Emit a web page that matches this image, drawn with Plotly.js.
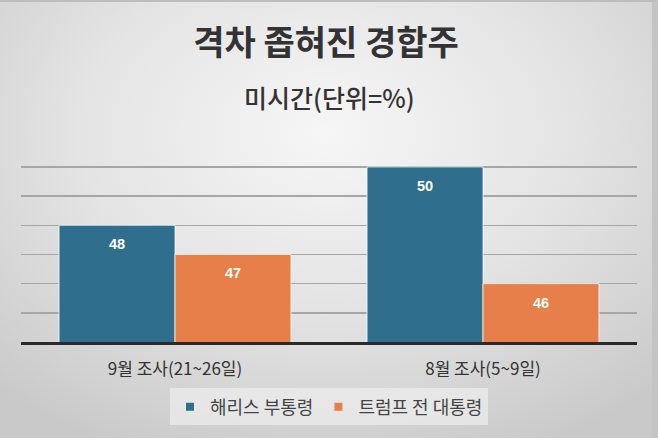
<!DOCTYPE html>
<html>
<head>
<meta charset="utf-8">
<script src="https://cdn.plot.ly/plotly-3.0.1.min.js"></script>
<style>
html,body{margin:0;padding:0;}
#chart{width:658px;height:438px;box-sizing:border-box;
background:radial-gradient(ellipse 75% 80% at 50% 30%, #f6f6f6 0%, #e4e4e4 50%, #c9c9c9 100%);
border-top:2px solid #bdbdbd;border-right:6px solid #c4c4c4;}
</style>
</head>
<body>
<div id="chart"></div>
<script>
const categories = ['9월 조사(21~26일)', '8월 조사(5~9일)'];
const seriesNames = ['해리스 부통령', '트럼프 전 대통령'];
const harris = [48, 50];
const trump = [47, 46];
const titleText = '격차 좁혀진 경합주';
const subtitleText = '미시간(단위=%)';

const font = '"Noto Sans CJK KR", "Noto Sans", sans-serif';
const colors = ['#2f6f8d', '#e67f49'];
const W = 652, H = 436;
const margin = {l: 21, r: 15, t: 162, b: 93};
const bargap = 0.247;

const series = [harris, trump];

const data = series.map((vals, j) => ({
  type: 'bar', name: seriesNames[j], x: categories, y: vals,
  marker: {color: colors[j], line: {color: 'rgba(255,255,255,0.75)', width: 1}},
  showlegend: false, hoverinfo: 'skip'
}));
// legend entries with small square symbols
seriesNames.forEach((n, j) => data.push({
  type: 'scatter', mode: 'markers', name: n, x: [null], y: [null],
  marker: {symbol: 'square', size: 8, color: colors[j]}, showlegend: true, hoverinfo: 'skip'
}));

// value labels placed inside each bar, just below its top
const plotW = W - margin.l - margin.r;
const catW = plotW / categories.length;
const barW = catW * (1 - bargap) / series.length;
const labelAnns = [];
series.forEach((vals, j) => {
  vals.forEach((v, i) => {
    labelAnns.push({
      x: categories[i], y: v, xref: 'x', yref: 'y',
      xshift: (j - (series.length - 1) / 2) * barW, yshift: -19,
      text: '<b>' + v + '</b>', showarrow: false, yanchor: 'middle',
      font: {family: 'Liberation Sans, Arial, sans-serif', size: 14.5, color: '#ffffff'}
    });
  });
});

const layout = {
  width: W, height: H, margin: margin,
  paper_bgcolor: 'rgba(0,0,0,0)', plot_bgcolor: 'rgba(0,0,0,0)',
  barmode: 'group', bargap: bargap, bargroupgap: 0,
  title: {text: '<b>' + titleText + '</b>', x: 0.5, xanchor: 'center', y: 1 - 41 / H, yanchor: 'middle',
    font: {family: font, size: 34, color: '#333333'}},
  xaxis: {showticklabels: true, showline: true, linecolor: '#2a2a2a', linewidth: 2.5, ticks: '', showgrid: false,
    tickfont: {family: font, size: 17, color: '#333333'}, ticklabelstandoff: 10},
  yaxis: {range: [44, 50.1], tickvals: [45, 46, 47, 48, 49, 50], showticklabels: false, showgrid: true,
    gridcolor: '#a6a6a6', gridwidth: 1.5, zeroline: false, ticks: ''},
  showlegend: true,
  legend: {orientation: 'h', x: 0.5, xanchor: 'center', y: -0.365, yanchor: 'middle',
    bgcolor: 'rgba(238,238,238,0.7)', font: {family: font, size: 18, color: '#444444'},
    itemwidth: 30, traceorder: 'normal', borderwidth: 0},
  annotations: [
    {text: subtitleText, xref: 'paper', yref: 'paper', x: 0.5, y: 1, yanchor: 'middle', yshift: margin.t - 95,
      showarrow: false, font: {family: font, size: 25, color: '#333333', weight: 500}}
  ].concat(labelAnns)
};

Plotly.newPlot('chart', data, layout, {displayModeBar: false, staticPlot: true});
</script>
</body>
</html>
